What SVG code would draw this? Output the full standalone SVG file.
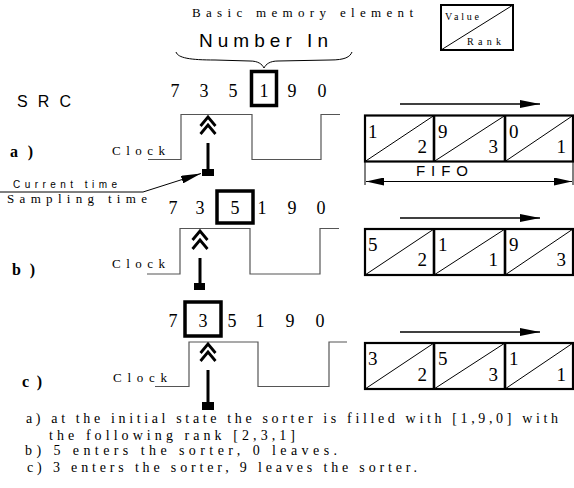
<svg xmlns="http://www.w3.org/2000/svg" width="574" height="488" viewBox="0 0 574 488">
  <defs>
    <style>
      .digit { font-size: 18px; text-anchor: middle; }
      .cellv { font-size: 19px; }
      .cellr { font-size: 19px; text-anchor: end; }
      .clk { fill: none; stroke: #555; stroke-width: 1.2; }
      .sel { fill: none; stroke: #000; stroke-width: 3.5; }
      .stem { stroke: #000; stroke-width: 3; }
      .chev { fill: none; stroke: #000; stroke-width: 2.8; stroke-linejoin: miter; }
      .cell { fill: none; stroke: #000; stroke-width: 2.2; }
      .div { stroke: #000; stroke-width: 2.6; }
      .diag { stroke: #000; stroke-width: 1; }
      .thin { fill: none; stroke: #000; stroke-width: 1; }
      .flow { stroke: #000; stroke-width: 1.6; marker-end: url(#head); }
    </style>
    <marker id="head" viewBox="0 0 20 8" refX="20" refY="4" markerWidth="20" markerHeight="8" markerUnits="userSpaceOnUse" orient="auto">
      <path d="M0,0 L20,4 L0,8 Z" fill="#000"/>
    </marker>
    <marker id="head2" viewBox="0 0 18 8" refX="18" refY="4" markerWidth="18" markerHeight="8" markerUnits="userSpaceOnUse" orient="auto-start-reverse">
      <path d="M0,0 L18,4 L0,8 Z" fill="#000"/>
    </marker>
    <!-- FIFO register: three value/rank cells -->
    <g id="fifo-frame">
      <line class="diag" x1="365" y1="46" x2="434" y2="0"/>
      <line class="diag" x1="434" y1="46" x2="505" y2="0"/>
      <line class="diag" x1="505" y1="46" x2="573" y2="0"/>
      <rect class="cell" x="365" y="0" width="208" height="46"/>
      <line class="div" x1="434" y1="0" x2="434" y2="46"/>
      <line class="div" x1="505" y1="0" x2="505" y2="46"/>
    </g>
  </defs>

  <!-- headings -->
  <g id="title">
    <text font-family="Liberation Serif, DejaVu Serif, serif" x="192" y="17" font-size="13" textLength="221" lengthAdjust="spacing">Basic memory element</text>
    <text font-family="Liberation Sans, Arial, sans-serif" x="199" y="47" font-size="19" textLength="129" lengthAdjust="spacing">Number In</text>
    <path class="thin" d="M176,52 C178,58 190,60 215,60 L250,61 C258,61 262,64 264,68 C266,64 270,61 278,61 L330,60 C345,60 350,57 352,52"/>
    <text font-family="Liberation Sans, Arial, sans-serif" x="17" y="107" font-size="16" textLength="54" lengthAdjust="spacing">SRC</text>
  </g>

  <!-- legend: value / rank cell -->
  <g id="legend" font-family="Liberation Serif, DejaVu Serif, serif">
    <rect x="441" y="5" width="72" height="45" fill="none" stroke="#000" stroke-width="2"/>
    <line class="diag" x1="441" y1="50" x2="513" y2="5"/>
    <text x="445" y="20" font-size="10" textLength="34" lengthAdjust="spacing">Value</text>
    <text x="467" y="45" font-size="10" textLength="34" lengthAdjust="spacing">Rank</text>
  </g>

  <!-- state a -->
  <g id="state-a" font-family="Liberation Serif, DejaVu Serif, serif">
    <text x="10" y="157" font-size="16" font-weight="bold" textLength="23" lengthAdjust="spacing">a )</text>
    <text x="112" y="155" font-size="13" textLength="53" lengthAdjust="spacing">Clock</text>
    <g class="digit">
      <text x="175" y="97">7</text><text x="204" y="97">3</text><text x="233" y="97">5</text>
      <text x="264" y="97">1</text><text x="292" y="97">9</text><text x="322" y="97">0</text>
    </g>
    <rect class="sel" x="251.5" y="71.5" width="25" height="34"/>
    <polyline class="clk" points="148,159.5 181,159.5 181,114.5 252,114.5 252,159.5 321,159.5 321,114.5 340,114.5"/>
    <polyline class="chev" points="200.5,126 208,117 215.5,126"/>
    <polyline class="chev" points="200.5,134 208,125 215.5,134"/>
    <line class="stem" x1="208" y1="143" x2="208" y2="170"/>
    <rect x="202" y="169" width="12" height="7" fill="#000"/>
  </g>

  <!-- time annotation -->
  <g id="time-labels">
    <text font-family="Liberation Sans, Arial, sans-serif" x="13" y="188" font-size="10" textLength="104" lengthAdjust="spacing">Current time</text>
    <text font-family="Liberation Serif, DejaVu Serif, serif" x="7" y="203" font-size="13" textLength="140" lengthAdjust="spacing">Sampling time</text>
  </g>

  <g id="fifo-a">
    <line class="flow" x1="400" y1="104" x2="540" y2="104"/>
    <use href="#fifo-frame" y="115.5"/>
    <g font-family="Liberation Serif, DejaVu Serif, serif">
      <text class="cellv" x="368" y="138">1</text><text class="cellr" x="427" y="153">2</text>
      <text class="cellv" x="438" y="138">9</text><text class="cellr" x="498" y="153">3</text>
      <text class="cellv" x="509" y="138">0</text><text class="cellr" x="566" y="153">1</text>
    </g>
    <line class="thin" x1="365" y1="161" x2="365" y2="185"/>
    <line class="thin" x1="573" y1="161" x2="573" y2="185"/>
    <line stroke="#000" stroke-width="1.2" x1="366" y1="181.5" x2="572" y2="181.5" marker-start="url(#head2)" marker-end="url(#head2)"/>
    <text font-family="Liberation Sans, Arial, sans-serif" x="416" y="176" font-size="15" textLength="52" lengthAdjust="spacing">FIFO</text>
  </g>

  <!-- state b -->
  <g id="state-b" font-family="Liberation Serif, DejaVu Serif, serif">
    <text x="12" y="275" font-size="16" font-weight="bold" textLength="23" lengthAdjust="spacing">b )</text>
    <text x="112" y="268" font-size="13" textLength="53" lengthAdjust="spacing">Clock</text>
    <g class="digit">
      <text x="173" y="214">7</text><text x="200" y="214">3</text><text x="235" y="214">5</text>
      <text x="262" y="214">1</text><text x="292" y="214">9</text><text x="321" y="214">0</text>
    </g>
    <rect class="sel" x="217" y="191" width="36" height="32"/>
    <polyline class="clk" points="147,274 180,274 180,228.5 250,228.5 250,274 320,274 320,228.5 339,228.5"/>
    <polyline class="chev" points="192.5,240 200,231 207.5,240"/>
    <polyline class="chev" points="192.5,249 200,240 207.5,249"/>
    <line class="stem" x1="200" y1="258" x2="200" y2="285"/>
    <rect x="194" y="283" width="11" height="7" fill="#000"/>
  </g>

  <g id="fifo-b">
    <line class="flow" x1="400" y1="218" x2="540" y2="218"/>
    <use href="#fifo-frame" y="229"/>
    <g font-family="Liberation Serif, DejaVu Serif, serif">
      <text class="cellv" x="368" y="251">5</text><text class="cellr" x="427" y="266">2</text>
      <text class="cellv" x="438" y="251">1</text><text class="cellr" x="498" y="266">1</text>
      <text class="cellv" x="509" y="251">9</text><text class="cellr" x="566" y="266">3</text>
    </g>
  </g>

  <!-- state c -->
  <g id="state-c" font-family="Liberation Serif, DejaVu Serif, serif">
    <text x="22" y="387" font-size="16" font-weight="bold" textLength="20" lengthAdjust="spacing">c )</text>
    <text x="113" y="382" font-size="13" textLength="54" lengthAdjust="spacing">Clock</text>
    <g class="digit">
      <text x="173" y="327">7</text><text x="203" y="327">3</text><text x="232" y="327">5</text>
      <text x="260" y="327">1</text><text x="290" y="327">9</text><text x="320" y="327">0</text>
    </g>
    <rect class="sel" x="185" y="302" width="36" height="34"/>
    <polyline class="clk" points="155,386.5 189,386.5 189,342 258,342 258,386.5 329,386.5 329,342 347,342"/>
    <polyline class="chev" points="200.5,353 208,344 215.5,353"/>
    <polyline class="chev" points="200.5,361 208,352 215.5,361"/>
    <line class="stem" x1="208" y1="370" x2="208" y2="403"/>
    <rect x="202" y="402" width="12" height="8" fill="#000"/>
  </g>

  <g id="fifo-c">
    <line class="flow" x1="400" y1="332" x2="540" y2="332"/>
    <use href="#fifo-frame" y="343"/>
    <g font-family="Liberation Serif, DejaVu Serif, serif">
      <text class="cellv" x="368" y="365">3</text><text class="cellr" x="427" y="381">2</text>
      <text class="cellv" x="438" y="365">5</text><text class="cellr" x="498" y="381">3</text>
      <text class="cellv" x="509" y="365">1</text><text class="cellr" x="566" y="381">1</text>
    </g>
  </g>

  <!-- pointer from the time labels to the sampling point -->
  <g id="connectors">
    <polyline fill="none" stroke="#000" stroke-width="1" points="0,192 143,192 201,173.5" marker-end="url(#head)"/>
  </g>

  <!-- caption -->
  <g id="caption" font-family="Liberation Serif, DejaVu Serif, serif" font-size="14">
    <text x="26" y="423" textLength="532" lengthAdjust="spacing">a) at the initial state the sorter is filled with [1,9,0] with</text>
    <text x="49" y="440" textLength="246" lengthAdjust="spacing">the following rank [2,3,1]</text>
    <text x="25" y="455" textLength="312" lengthAdjust="spacing">b) 5 enters the sorter, 0 leaves.</text>
    <text x="27" y="472" textLength="390" lengthAdjust="spacing">c) 3 enters the sorter, 9 leaves the sorter.</text>
  </g>
</svg>
